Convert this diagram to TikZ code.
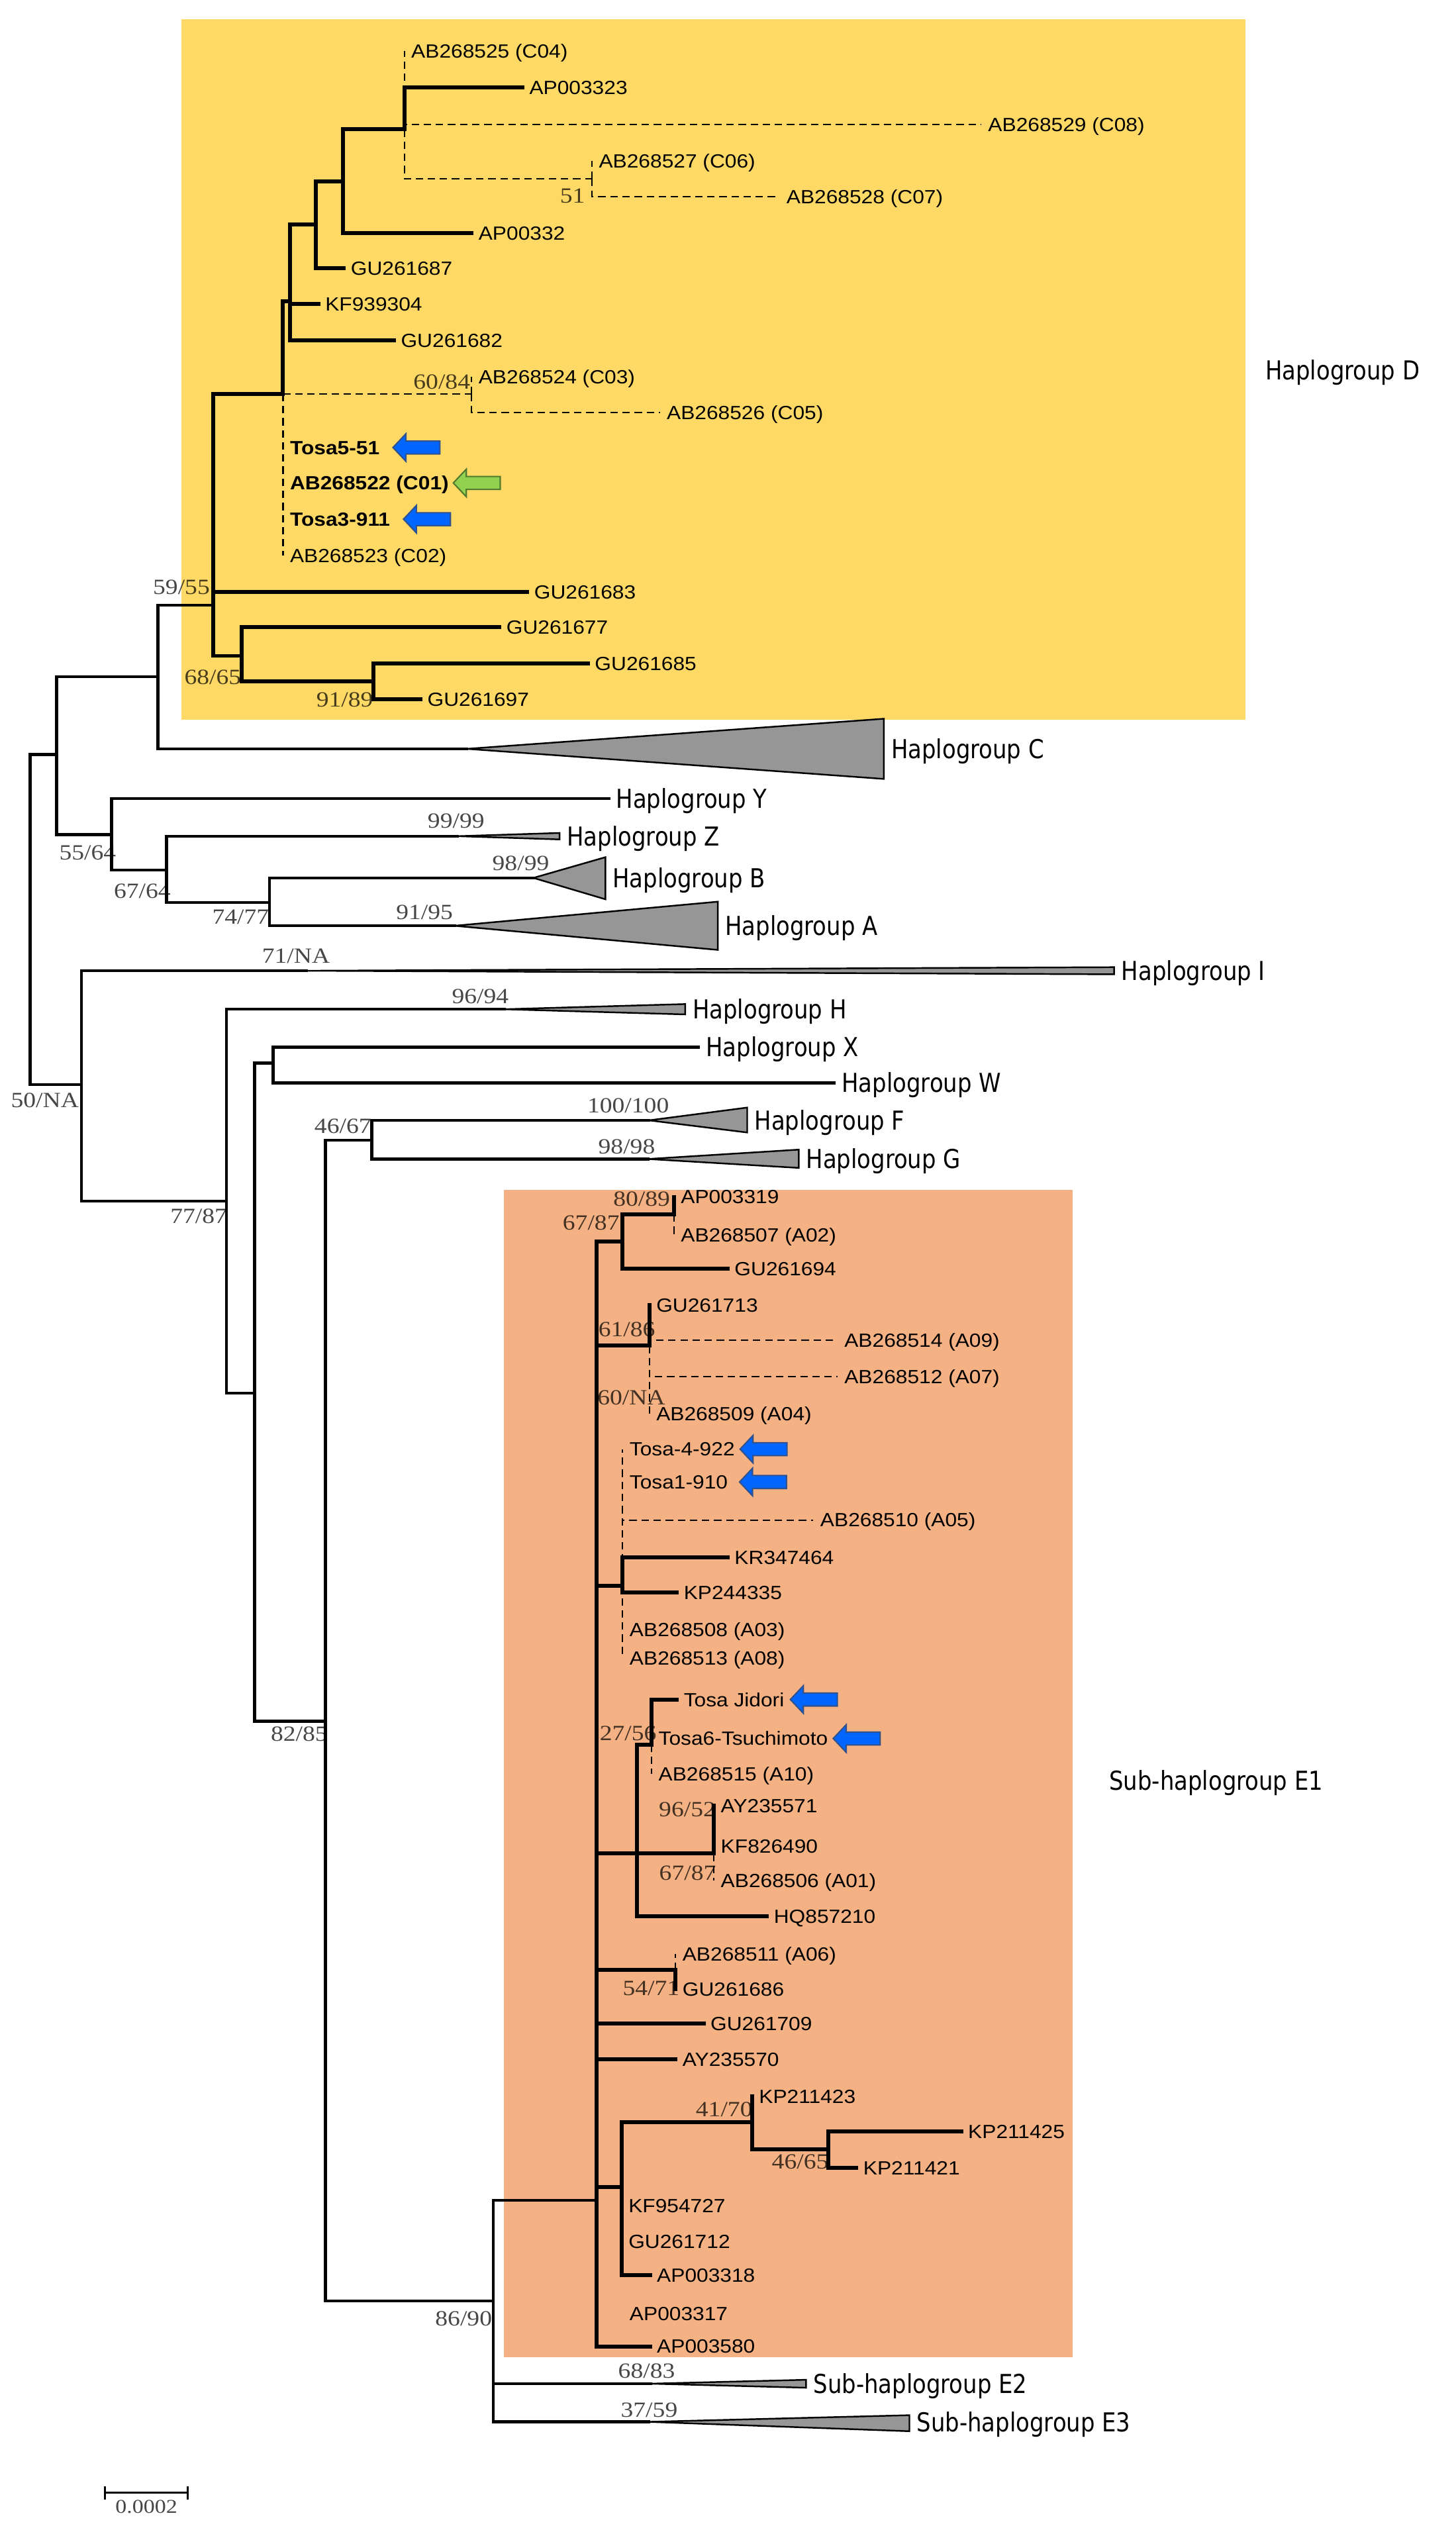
\documentclass[tikz,border=0pt]{standalone}
\usepackage{fontspec}
\setmainfont{Liberation Sans}
\newfontfamily\leaffont{Liberation Sans}[FakeStretch=1.1]
\newfontfamily\grpfont{DejaVu Sans}[FakeStretch=0.86]
\newfontfamily\bsfont{Liberation Serif}[FakeStretch=1.15]
\usetikzlibrary{calc,arrows.meta}
\definecolor{cladeD}{RGB}{255,217,102}
\definecolor{cladeE}{RGB}{244,177,131}
\definecolor{clgray}{RGB}{150,150,150}
\definecolor{tosablue}{RGB}{0,102,255}
\definecolor{tosaline}{RGB}{47,82,143}
\definecolor{refgreen}{RGB}{146,208,80}
\definecolor{refline}{RGB}{80,122,46}

\tikzset{
  br/.style={line width=1.25pt, line cap=rect},
  brk/.style={line width=1.7pt, line cap=rect},
  zb/.style={line width=0.6pt, dash pattern=on 3.2pt off 2pt},
  lf/.style={anchor=west, inner xsep=2.8pt, inner ysep=0pt, font=\leaffont\fontsize{8.2}{9}\selectfont, text height=5.9pt, text depth=0pt},
  grp/.style={anchor=west, inner xsep=3pt, inner ysep=0pt, font=\grpfont\fontsize{11.2}{13}\selectfont, text height=8.2pt, text depth=0pt},
  bs/.style={inner sep=0pt, font=\bsfont\fontsize{9.3}{10}\selectfont, text=black, text opacity=0.72, text height=6.3pt, text depth=0pt},
  clade/.style={fill=clgray, draw=black, line width=0.7pt},
  tosa/.style={fill=tosablue, draw=tosaline, line width=0.6pt},
  refc/.style={fill=refgreen, draw=refline, line width=0.6pt},
  pointer/.pic={\path[#1] (0,0) -- (8,-8.5) -- (8,-4) -- (29,-4) -- (29,4) -- (8,4) -- (8,8.5) -- cycle;}
}

\begin{document}
\begin{tikzpicture}[x=0.02442cm, y=-0.02442cm]
\useasboundingbox (0,0) rectangle (900,1568);
\fill[white] (0,0) rectangle (900,1568);

% shaded clades
\fill[cladeD] (112,12) rectangle (770,445);
\fill[cladeE] (311.5,735.5) rectangle (663.4,1457.3);

% inner nodes
\coordinate (root) at (18.7,568);
\coordinate (n11) at (35,466.5);
\coordinate (n9) at (97.7,418.5);
\coordinate (n6) at (132,374.3);
\coordinate (n5) at (175,243.5);
\coordinate (n4) at (179.5,186.4);
\coordinate (n3) at (195.3,138.6);
\coordinate (n2) at (212,112);
\coordinate (n1) at (250,80);
\coordinate (n1b) at (366,110.5);
\coordinate (n7) at (291.6,243.5);
\coordinate (n8) at (149.4,405.5);
\coordinate (n10) at (230.7,421.4);
\coordinate (n12) at (69,516);
\coordinate (n14) at (102.9,538);
\coordinate (n34) at (166.6,558);
\coordinate (n15) at (50.3,670.6);
\coordinate (n16) at (139.9,742.6);
\coordinate (n17) at (157.4,861.3);
\coordinate (n18) at (168.9,657.2);
\coordinate (n19) at (201.2,1064.2);
\coordinate (n20) at (229.8,705);
\coordinate (n21) at (305,1422.6);
\coordinate (n22) at (369,1360.4);
\coordinate (n23) at (385,767.7);
\coordinate (n32) at (416.7,750.9);
\coordinate (n24) at (401.5,832);
\coordinate (n25) at (385,980.6);
\coordinate (n26) at (393.7,1146);
\coordinate (n27) at (402.9,1078.6);
\coordinate (n28) at (441.4,1146);
\coordinate (n29) at (417.7,1218);
\coordinate (n30) at (384.3,1352.2);
\coordinate (n31) at (465,1312);
\coordinate (n33) at (512,1328.8);

% haplogroup D leaves
\node[lf] (c04) at (250,31.5) {AB268525 (C04)};
\node[lf] (ap323) at (323,54) {AP003323};
\node[lf] (c08) at (606.7,77) {AB268529 (C08)};
\node[lf] (c06) at (366,99.4) {AB268527 (C06)};
\node[lf] (c07) at (482,121.6) {AB268528 (C07)};
\node[lf] (ap332) at (291.6,144) {AP00332};
\node[lf] (gu687) at (212.6,166) {GU261687};
\node[lf] (kf304) at (196.8,188) {KF939304};
\node[lf] (gu682) at (243.6,210.5) {GU261682};
\node[lf] (c03) at (291.6,232.8) {AB268524 (C03)};
\node[lf] (c05) at (408,255) {AB268526 (C05)};
\node[lf] (tosa5) at (175,276.7) {\bfseries Tosa5-51};
\node[lf] (c01) at (175,298.6) {\bfseries AB268522 (C01)};
\node[lf] (tosa3) at (175,321) {\bfseries Tosa3-911};
\node[lf] (c02) at (175,343.6) {AB268523 (C02)};
\node[lf] (gu683) at (326,365.9) {GU261683};
\node[lf] (gu677) at (308.8,387.8) {GU261677};
\node[lf] (gu685) at (363.5,410.4) {GU261685};
\node[lf] (gu697) at (260,432.4) {GU261697};

% sub-haplogroup E1 leaves
\node[lf] (ap319) at (416.7,740) {AP003319};
\node[lf] (a02) at (416.7,763.6) {AB268507 (A02)};
\node[lf] (gu694) at (449.9,784.5) {GU261694};
\node[lf] (gu713) at (401.5,807) {GU261713};
\node[lf] (a09) at (517.8,828.7) {AB268514 (A09)};
\node[lf] (a07) at (517.8,851) {AB268512 (A07)};
\node[lf] (a04) at (401.5,874) {AB268509 (A04)};
\node[lf] (tosa4) at (385,896) {Tosa-4-922};
\node[lf] (tosa1) at (385,916.3) {Tosa1-910};
\node[lf] (a05) at (502.9,939.8) {AB268510 (A05)};
\node[lf] (kr464) at (449.9,962.8) {KR347464};
\node[lf] (kp335) at (418.5,984.5) {KP244335};
\node[lf] (a03) at (385,1007.7) {AB268508 (A03)};
\node[lf] (a08) at (385,1025.2) {AB268513 (A08)};
\node[lf] (jidori) at (418.5,1050.8) {Tosa Jidori};
\node[lf] (tsuchi) at (402.9,1074.9) {Tosa6-Tsuchimoto};
\node[lf] (a10) at (402.9,1096.8) {AB268515 (A10)};
\node[lf] (ay571) at (441.4,1116.6) {AY235571};
\node[lf] (kf490) at (441.4,1141.3) {KF826490};
\node[lf] (a01) at (441.4,1162.6) {AB268506 (A01)};
\node[lf] (hq210) at (474.2,1184.7) {HQ857210};
\node[lf] (a06) at (417.7,1208) {AB268511 (A06)};
\node[lf] (gu686) at (417.7,1230) {GU261686};
\node[lf] (gu709) at (435,1251) {GU261709};
\node[lf] (ay570) at (417.7,1273.3) {AY235570};
\node[lf] (kp423) at (465,1296) {KP211423};
\node[lf] (kp425) at (594.3,1318) {KP211425};
\node[lf] (kp421) at (529.5,1340.5) {KP211421};
\node[lf] (kf727) at (384.3,1363.8) {KF954727};
\node[lf] (gu712) at (384.3,1386) {GU261712};
\node[lf] (ap318) at (401.9,1406.7) {AP003318};
\node[lf] (ap317) at (385,1430.3) {AP003317};
\node[lf] (ap580) at (401.9,1450.7) {AP003580};

% zero length / unsupported branches
\draw[zb] (n1) -- (n1 |- c04);
\draw[zb] (n1) |- (c08.west);
\draw[zb] (n1) |- (n1b);
\draw[zb] (n1b) -- (n1b |- c06);
\draw[zb] (n1b) |- (c07.west);
\draw[zb] (n5) |- (n7);
\draw[zb] (n7) -- (n7 |- c03);
\draw[zb] (n7) |- (c05.west);
\draw[zb] (n5) -- (n5 |- c02);
\draw[zb] (n32) -- (n32 |- a02);
\draw[zb] (n24) |- (a09.west);
\draw[zb] (n24) |- (a07.west);
\draw[zb] (n24) -- (n24 |- a04);
\draw[zb] (n25) -- (n25 |- tosa4);
\draw[zb] (n25) -- (n25 |- a08);
\draw[zb] (n25) |- (a05.west);
\draw[zb] (n27) -- (n27 |- a10);
\draw[zb] (n28) -- (n28 |- a01);
\draw[zb] (n29) -- (n29 |- a06);

% haplogroup D
\draw[brk] (n1) |- (ap323.west);
\draw[brk] (n2) |- (n1);
\draw[brk] (n2) |- (ap332.west);
\draw[brk] (n3) |- (n2);
\draw[brk] (n3) |- (gu687.west);
\draw[brk] (n4) |- (n3);
\draw[brk] (n4) |- (kf304.west);
\draw[brk] (n4) |- (gu682.west);
\draw[brk] (n5) |- (n4);
\draw[brk] (n6) |- (n5);
\draw[brk] (n6) |- (gu683.west);
\draw[brk] (n6) |- (n8);
\draw[brk] (n8) |- (gu677.west);
\draw[brk] (n8) |- (n10);
\draw[brk] (n10) |- (gu685.west);
\draw[brk] (n10) |- (gu697.west);

% sub-haplogroup E1
\draw[brk] (n22) |- (n23);
\draw[brk] (n22) |- (n24);
\draw[brk] (n22) |- (n25);
\draw[brk] (n22) |- (n26);
\draw[brk] (n22) |- (n29);
\draw[brk] (n22) |- (gu709.west);
\draw[brk] (n22) |- (ay570.west);
\draw[brk] (n22) |- (n30);
\draw[brk] (n22) |- (ap580.west);
\draw[brk] (n23) |- (n32);
\draw[brk] (n23) |- (gu694.west);
\draw[brk] (n32) -- (n32 |- ap319);
\draw[brk] (n24) -- (n24 |- gu713);
\draw[brk] (n25) |- (kr464.west);
\draw[brk] (n25) |- (kp335.west);
\draw[brk] (n26) |- (n27);
\draw[brk] (n26) |- (n28);
\draw[brk] (n26) |- (hq210.west);
\draw[brk] (n27) |- (jidori.west);
\draw[brk] (n28) -- (n28 |- ay571);
\draw[brk] (n29) -- (n29 |- gu686);
\draw[brk] (n30) |- (n31);
\draw[brk] (n30) |- (ap318.west);
\draw[brk] (n31) -- (n31 |- kp423);
\draw[brk] (n31) |- (n33);
\draw[brk] (n33) |- (kp425.west);
\draw[brk] (n33) |- (kp421.west);

% backbone
\node[grp] (hY) at (376.4,493.7) {Haplogroup Y};
\node[grp] (hX) at (432,647.4) {Haplogroup X};
\node[grp] (hW) at (515.9,669.5) {Haplogroup W};
\draw[br] (root) |- (n11);
\draw[br] (root) |- (n15);
\draw[br] (n11) |- (n9);
\draw[br] (n11) |- (n12);
\draw[br] (n9) |- (n6);
\draw[br] (n12) |- (hY.west);
\draw[br] (n12) |- (n14);
\draw[br] (n14) |- (n34);
\draw[br] (n15) |- (n16);
\draw[br] (n16) |- (n17);
\draw[br] (n17) |- (n18);
\draw[br] (n17) |- (n19);
\draw[br] (n18) |- (hX.west);
\draw[br] (n18) |- (hW.west);
\draw[br] (n19) |- (n20);
\draw[br] (n19) |- (n21);
\draw[br] (n21) |- (n22);

% collapsed clades
\foreach \nm/\pn/\ax/\ay/\rx/\ty/\by/\txt in {
  C/n9/288.7/463/546.5/444.4/481.6/Haplogroup C,
  Z/n14/283/517/346/515/519/Haplogroup Z,
  B/n34/329.8/542.8/374.3/530/556/Haplogroup B,
  A/n34/281/572.4/443.8/557.5/587.3/Haplogroup A,
  I/n15/189.6/600.2/688.9/598/602.4/Haplogroup I,
  H/n16/311.7/624/423.7/620.8/627.2/Haplogroup H,
  F/n20/401.3/692.7/462/684.8/700.2/Haplogroup F,
  G/n20/400.6/716.6/493.9/710.8/722.1/Haplogroup G,
  E2/n21/402.4/1473.8/498.4/1471.4/1476.3/Sub-haplogroup E2,
  E3/n21/401/1497.4/562.3/1493.3/1503.2/Sub-haplogroup E3}
{
  \coordinate (c\nm) at (\ax,\ay);
  \draw[clade] (c\nm) -- (\rx,\ty) -- (\rx,\by) -- cycle;
  \draw[br] (\pn) |- (c\nm);
  \node[grp] (h\nm) at (\rx,\ay) {\txt};
}
\node[grp] (hD) at (777.8,229) {Haplogroup D};
\node[grp] (hE1) at (681.3,1101) {Sub-haplogroup E1};

% bootstrap values
\foreach \a/\x/\y/\t in {
  east/362/121/51, east/291/236/60{/}84, east/130/363/59{/}55,
  east/149.4/418.6/68{/}65, east/231/432.5/91{/}89, east/72/527/55{/}64,
  center/282/507.5/99{/}99, east/105.8/551/67{/}64, center/322/533.6/98{/}99,
  east/166.6/566.6/74{/}77, center/262.5/564/91{/}95, center/183/591/71{/}NA,
  east/49/680/50{/}NA, center/297/615.7/96{/}94, east/140.7/752/77{/}87,
  center/185/1072/82{/}85, east/229.8/696/46{/}67, center/388.4/683.3/100{/}100,
  center/387.5/709/98{/}98, east/304.5/1433.5/86{/}90, center/399.8/1466/68{/}83,
  center/401.4/1490/37{/}59, east/414.6/741.3/80{/}89, east/383.3/756/67{/}87,
  east/405.4/822/61{/}86, east/411.6/864/60{/}NA, east/406.2/1071.6/27{/}56,
  east/442.8/1118.7/96{/}52, east/443/1158/67{/}87, east/420.4/1229/54{/}71,
  east/465.6/1304/41{/}70, east/512.6/1336.4/46{/}65}
  \node[bs, anchor=\a] at (\x,\y) {\t};

% Tosa samples
\pic at ($(tosa5.east)+(4,0)$) {pointer=tosa};
\pic at ($(c01.east)+(-1.5,0)$) {pointer=refc};
\pic at ($(tosa3.east)+(4,0)$) {pointer=tosa};
\pic at ($(tosa4.east)+(-1,0)$) {pointer=tosa};
\pic at ($(tosa1.east)+(3,0)$) {pointer=tosa};
\pic at ($(jidori.east)+(-0.5,0)$) {pointer=tosa};
\pic at ($(tsuchi.east)+(-1,0)$) {pointer=tosa};

% scale bar
\coordinate (sbL) at (64.4,1541.3);
\coordinate (sbR) at (116.6,1541.3);
\draw[{Bar[width=5.6pt]}-{Bar[width=5.6pt]}, line width=0.8pt] (sbL) -- (sbR)
  node[midway, below=2pt, bs, font=\bsfont\fontsize{8.4}{9}\selectfont] {0.0002};
\end{tikzpicture}
\end{document}
